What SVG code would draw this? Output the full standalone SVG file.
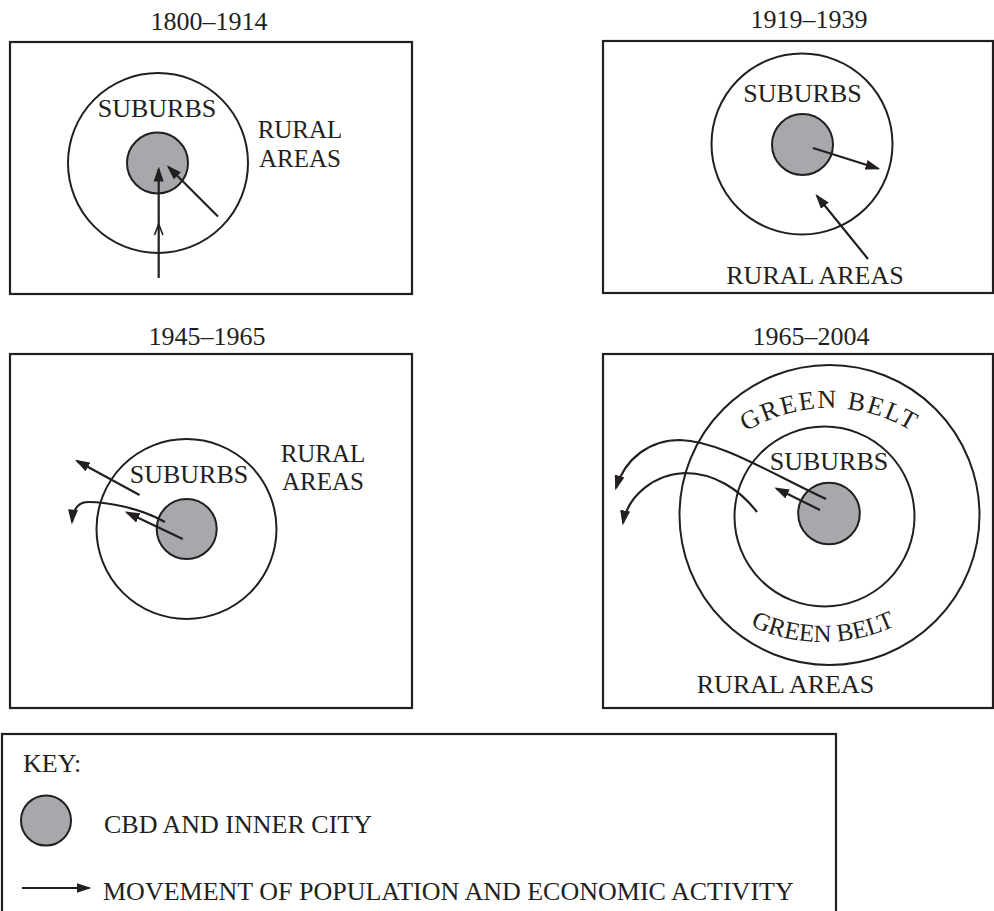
<svg xmlns="http://www.w3.org/2000/svg" width="994" height="911" viewBox="0 0 994 911">
<style>
  .frame{fill:none;stroke:#231f20;stroke-width:2.2}
  .ring{fill:none;stroke:#231f20;stroke-width:2}
  .cbd{fill:#a7a8ab;stroke:#231f20;stroke-width:2}
  .arr{fill:none;stroke:#231f20;stroke-width:2.2;marker-end:url(#ah)}
  text{font-family:"Liberation Serif","Times New Roman",serif;font-size:26px;fill:#231f20}
  .m{text-anchor:middle}
  .r2{font-size:25px}
</style>
<defs>
  <marker id="ah" markerUnits="userSpaceOnUse" markerWidth="15" markerHeight="12" viewBox="0 0 15 12" refX="12.5" refY="6" orient="auto">
    <path d="M0,1 L15,6 L0,11 Z" fill="#231f20"/>
  </marker>
  <path id="gbTop" d="M671.5,566 A158,158 0 0 1 987.5,566"/>
  <path id="gbBot" d="M653,472 A170,170 0 0 0 993,472"/>
</defs>

<g id="panel1">
  <text class="m" x="209" y="30">1800–1914</text>
  <rect class="frame" x="10" y="42" width="402" height="252"/>
  <circle class="ring" cx="158" cy="163" r="90"/>
  <circle class="cbd" cx="157.5" cy="163" r="30.5"/>
  <text class="m" x="157" y="117">SUBURBS</text>
  <text class="m r2" x="300" y="137.5">RURAL</text>
  <text class="m r2" x="300" y="166.5">AREAS</text>
</g>

<g id="panel2">
  <text class="m" x="809" y="28">1919–1939</text>
  <rect class="frame" x="603" y="41" width="390" height="252"/>
  <circle class="ring" cx="802" cy="144" r="90.5"/>
  <circle class="cbd" cx="802.5" cy="144.5" r="30.5"/>
  <text class="m" x="802.5" y="102">SUBURBS</text>
  <text class="m" x="815" y="284">RURAL AREAS</text>
</g>

<g id="panel3">
  <text class="m" x="207" y="345">1945–1965</text>
  <rect class="frame" x="10" y="354" width="402" height="354"/>
  <circle class="ring" cx="186.5" cy="529" r="90"/>
  <circle class="cbd" cx="186.7" cy="529" r="30"/>
  <text class="m" x="189" y="483">SUBURBS</text>
  <text class="m r2" x="323" y="461.5">RURAL</text>
  <text class="m r2" x="323" y="490">AREAS</text>
</g>

<g id="panel4">
  <text class="m" x="811" y="345">1965–2004</text>
  <rect class="frame" x="603" y="354" width="390" height="354"/>
  <circle class="ring" cx="829.5" cy="515" r="150"/>
  <circle class="ring" cx="824.5" cy="516.5" r="90"/>
  <circle class="cbd" cx="829" cy="513.5" r="30.8"/>
  <text class="m" x="829" y="470">SUBURBS</text>
  <text style="letter-spacing:2px"><textPath href="#gbTop" startOffset="50%" text-anchor="middle">GREEN BELT</textPath></text>
  <text style="font-size:25px"><textPath href="#gbBot" startOffset="50%" text-anchor="middle">GREEN BELT</textPath></text>
  <text class="m" x="785.5" y="693">RURAL AREAS</text>
</g>

<g id="key">
  <rect class="frame" x="2" y="734" width="834" height="190"/>
  <text x="23" y="772">KEY:</text>
  <circle class="cbd" cx="46" cy="820.5" r="25"/>
  <text x="104" y="833">CBD AND INNER CITY</text>
  <line class="arr" x1="22" y1="888" x2="89" y2="888"/>
  <text x="103" y="900">MOVEMENT OF POPULATION AND ECONOMIC ACTIVITY</text>
</g>

<g id="connectors">
  <!-- panel 1 -->
  <line class="arr" x1="158.7" y1="278" x2="158.7" y2="169"/>
  <polyline points="154.5,235 158.7,224 162.9,235" fill="none" stroke="#231f20" stroke-width="1.6"/>
  <line class="arr" x1="218" y1="216.5" x2="168.5" y2="167"/>
  <!-- panel 2 -->
  <line class="arr" x1="813" y1="148" x2="878" y2="168.5"/>
  <line class="arr" x1="868" y1="259" x2="817" y2="196"/>
  <!-- panel 3 -->
  <line class="arr" x1="139.5" y1="495" x2="77" y2="461"/>
  <line class="arr" x1="182.7" y1="539" x2="127" y2="512.5"/>
  <path class="arr" d="M165,522 C140,508 108,502 88,502 C78,502 73,510 72,522"/>
  <!-- panel 4 -->
  <line class="arr" x1="820" y1="510" x2="776.5" y2="488.5"/>
  <path class="arr" d="M826,499 C770,473 720,441 680,440 C650,440 625,458 616,488"/>
  <path class="arr" d="M757,512 C740,490 715,473 685,473 C655,474 628,495 623,523"/>
</g>
</svg>
